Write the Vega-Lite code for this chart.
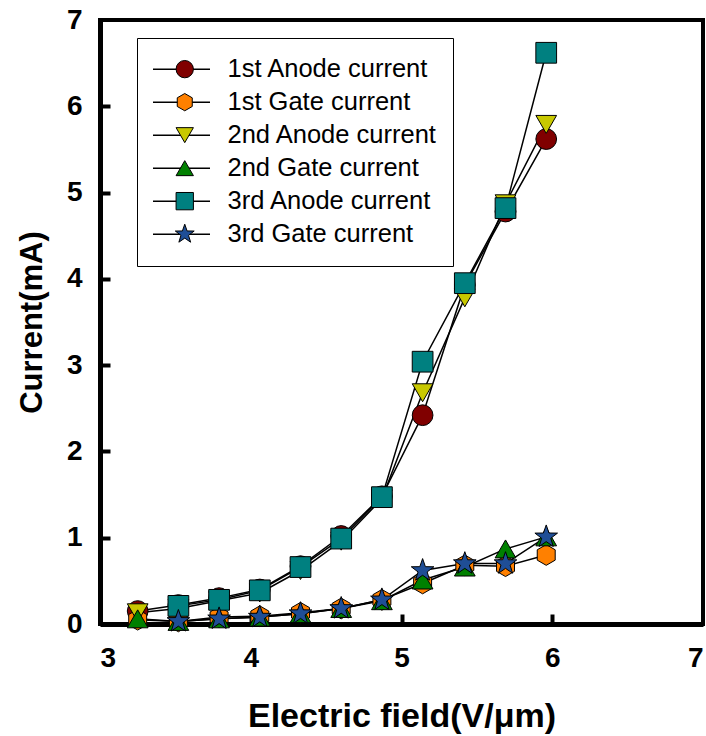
{
  "$schema": "https://vega.github.io/schema/vega-lite/v6.json",
  "width": 603,
  "height": 604,
  "autosize": "none",
  "padding": {"left": 100, "top": 20, "right": 3, "bottom": 112},
  "background": "white",
  "config": {
    "view": {"stroke": "black", "strokeWidth": 4},
    "font": "Liberation Sans",
    "axis": {
      "domainColor": "black", "domainWidth": 5, "tickColor": "black", "tickWidth": 4,
      "grid": false, "zindex": 1, "labelFont": "Liberation Sans", "labelFontWeight": "bold",
      "labelFontSize": 28, "labelColor": "black", "titleFont": "Liberation Sans",
      "titleFontWeight": "bold", "titleColor": "black"
    }
  },
  "data": {"values": [
    {"series": "1st Anode current", "x": 3.25, "y": 0.15},
    {"series": "1st Anode current", "x": 3.52, "y": 0.22},
    {"series": "1st Anode current", "x": 3.79, "y": 0.30},
    {"series": "1st Anode current", "x": 4.06, "y": 0.40},
    {"series": "1st Anode current", "x": 4.33, "y": 0.67},
    {"series": "1st Anode current", "x": 4.60, "y": 1.02},
    {"series": "1st Anode current", "x": 4.87, "y": 1.48},
    {"series": "1st Anode current", "x": 5.14, "y": 2.42},
    {"series": "1st Anode current", "x": 5.42, "y": 3.93},
    {"series": "1st Anode current", "x": 5.69, "y": 4.78},
    {"series": "1st Anode current", "x": 5.96, "y": 5.62},
    {"series": "1st Gate current", "x": 3.25, "y": 0.05},
    {"series": "1st Gate current", "x": 3.52, "y": 0.03},
    {"series": "1st Gate current", "x": 3.79, "y": 0.08},
    {"series": "1st Gate current", "x": 4.06, "y": 0.09},
    {"series": "1st Gate current", "x": 4.33, "y": 0.13},
    {"series": "1st Gate current", "x": 4.60, "y": 0.18},
    {"series": "1st Gate current", "x": 4.87, "y": 0.28},
    {"series": "1st Gate current", "x": 5.14, "y": 0.47},
    {"series": "1st Gate current", "x": 5.42, "y": 0.68},
    {"series": "1st Gate current", "x": 5.69, "y": 0.67},
    {"series": "1st Gate current", "x": 5.96, "y": 0.80},
    {"series": "2nd Anode current", "x": 3.25, "y": 0.13},
    {"series": "2nd Anode current", "x": 3.52, "y": 0.18},
    {"series": "2nd Anode current", "x": 3.79, "y": 0.27},
    {"series": "2nd Anode current", "x": 4.06, "y": 0.36},
    {"series": "2nd Anode current", "x": 4.33, "y": 0.62},
    {"series": "2nd Anode current", "x": 4.60, "y": 0.96},
    {"series": "2nd Anode current", "x": 4.87, "y": 1.45},
    {"series": "2nd Anode current", "x": 5.14, "y": 2.68},
    {"series": "2nd Anode current", "x": 5.42, "y": 3.78},
    {"series": "2nd Anode current", "x": 5.69, "y": 4.87},
    {"series": "2nd Anode current", "x": 5.96, "y": 5.79},
    {"series": "2nd Gate current", "x": 3.25, "y": 0.06},
    {"series": "2nd Gate current", "x": 3.52, "y": 0.03},
    {"series": "2nd Gate current", "x": 3.79, "y": 0.06},
    {"series": "2nd Gate current", "x": 4.06, "y": 0.08},
    {"series": "2nd Gate current", "x": 4.33, "y": 0.12},
    {"series": "2nd Gate current", "x": 4.60, "y": 0.18},
    {"series": "2nd Gate current", "x": 4.87, "y": 0.27},
    {"series": "2nd Gate current", "x": 5.14, "y": 0.51},
    {"series": "2nd Gate current", "x": 5.42, "y": 0.66},
    {"series": "2nd Gate current", "x": 5.69, "y": 0.87},
    {"series": "2nd Gate current", "x": 5.96, "y": 1.01},
    {"series": "3rd Anode current", "x": 3.52, "y": 0.21},
    {"series": "3rd Anode current", "x": 3.79, "y": 0.28},
    {"series": "3rd Anode current", "x": 4.06, "y": 0.39},
    {"series": "3rd Anode current", "x": 4.33, "y": 0.66},
    {"series": "3rd Anode current", "x": 4.60, "y": 0.99},
    {"series": "3rd Anode current", "x": 4.87, "y": 1.47},
    {"series": "3rd Anode current", "x": 5.14, "y": 3.04},
    {"series": "3rd Anode current", "x": 5.42, "y": 3.95},
    {"series": "3rd Anode current", "x": 5.69, "y": 4.82},
    {"series": "3rd Anode current", "x": 5.96, "y": 6.62},
    {"series": "3rd Gate current", "x": 3.52, "y": 0.03},
    {"series": "3rd Gate current", "x": 3.79, "y": 0.06},
    {"series": "3rd Gate current", "x": 4.06, "y": 0.08},
    {"series": "3rd Gate current", "x": 4.33, "y": 0.12},
    {"series": "3rd Gate current", "x": 4.60, "y": 0.18},
    {"series": "3rd Gate current", "x": 4.87, "y": 0.28},
    {"series": "3rd Gate current", "x": 5.14, "y": 0.62},
    {"series": "3rd Gate current", "x": 5.42, "y": 0.70},
    {"series": "3rd Gate current", "x": 5.69, "y": 0.70},
    {"series": "3rd Gate current", "x": 5.96, "y": 1.01}
  ]},
  "transform": [{"calculate": "datum.series", "as": "lineSeries"}],
  "resolve": {"axis": {"x": "independent", "y": "independent"}},
  "layer": [
    {
      "mark": {"type": "line", "strokeWidth": 1.5},
      "encoding": {
        "x": {"field": "x", "type": "quantitative", "title": "Electric field(V/\u03bcm)",
          "scale": {"domain": [3, 7], "nice": false, "zero": false},
          "axis": {"orient": "bottom", "values": [3, 4, 5, 6, 7], "ticks": false, "labelPadding": 20, "titlePadding": 27, "titleFontSize": 34}},
        "y": {"field": "y", "type": "quantitative", "title": "Current(mA)",
          "scale": {"domain": [0, 7], "nice": false},
          "axis": {"orient": "left", "values": [0, 1, 2, 3, 4, 5, 6, 7], "ticks": false, "labelPadding": 18, "titlePadding": 18, "titleFontSize": 31}},
        "stroke": {"field": "lineSeries", "type": "nominal",
          "scale": {"range": ["black", "black", "black", "black", "black", "black"]},
          "legend": {"orient": "none", "legendX": 37, "legendY": 18, "title": null, "zindex": 0,
            "symbolType": "stroke", "symbolSize": 3249, "symbolStrokeWidth": 1.5,
            "clipHeight": 32.3, "rowPadding": 0, "padding": 15, "labelOpacity": 0,
            "labelFontSize": 25.5, "labelOffset": 16, "labelLimit": 400}}
      }
    },
    {
      "mark": {"type": "point", "filled": true, "stroke": "black", "strokeWidth": 1, "opacity": 1, "size": 430},
      "encoding": {
        "x": {"field": "x", "type": "quantitative", "title": null,
          "axis": {"orient": "bottom", "offset": -10, "values": [4, 5, 6], "domain": false, "labels": false, "ticks": true, "tickSize": 10}},
        "y": {"field": "y", "type": "quantitative", "title": null,
          "axis": {"orient": "left", "offset": -10, "values": [1, 2, 3, 4, 5, 6], "domain": false, "labels": false, "ticks": true, "tickSize": 10}},
        "shape": {"field": "series", "type": "nominal",
          "scale": {"range": ["circle",
            "M0,-1L0.866,-0.5L0.866,0.5L0,1L-0.866,0.5L-0.866,-0.5Z",
            "triangle-down", "triangle-up", "square",
            "M0,-1.15L0.27,-0.37L1.09,-0.36L0.44,0.14L0.68,0.93L0,0.46L-0.68,0.93L-0.44,0.14L-1.09,-0.36L-0.27,-0.37Z"]},
          "legend": {"orient": "none", "legendX": 37, "legendY": 18, "title": null, "zindex": 1,
            "symbolSize": 300, "symbolStrokeColor": "black", "symbolStrokeWidth": 1,
            "clipHeight": 32.3, "rowPadding": 0, "padding": 15, "symbolOffset": 20,
            "labelFont": "Liberation Sans", "labelFontSize": 25.5, "labelColor": "black", "labelOffset": 30,
            "labelLimit": 400, "strokeColor": "black", "fillColor": null}},
        "color": {"field": "series", "type": "nominal",
          "scale": {"range": ["#800000", "#FF8000", "#C8C800", "#008000", "#008080", "#1F4E96"]},
          "legend": {"orient": "none", "legendX": 37, "legendY": 18, "title": null, "zindex": 1,
            "symbolSize": 300, "symbolStrokeColor": "black", "symbolStrokeWidth": 1,
            "clipHeight": 32.3, "rowPadding": 0, "padding": 15, "symbolOffset": 20,
            "labelFont": "Liberation Sans", "labelFontSize": 25.5, "labelColor": "black", "labelOffset": 30,
            "labelLimit": 400, "strokeColor": "black", "fillColor": null}}
      }
    }
  ]
}
